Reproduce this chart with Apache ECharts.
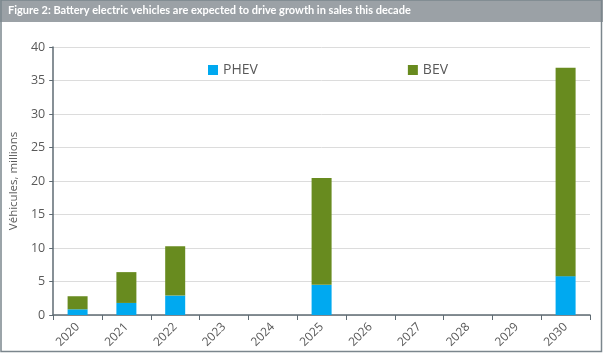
<!DOCTYPE html>
<html>
<head>
<meta charset="utf-8">
<script src="https://cdn.jsdelivr.net/npm/echarts@6/dist/echarts.min.js"></script>
<style>
  html, body { margin: 0; padding: 0; background: #fff; }
  #chart { width: 603px; height: 354px; }
</style>
</head>
<body>
<div id="chart"></div>
<script>
// 数据
var years = ["2020", "2021", "2022", "2023", "2024", "2025", "2026", "2027", "2028", "2029", "2030"];
var phev = [0.85, 1.8, 2.9, null, null, 4.5, null, null, null, null, 5.8];
var bev = [1.95, 4.6, 7.35, null, null, 15.95, null, null, null, null, 31.1];
var yTicks = { min: 0, max: 40, interval: 5 };

(function () {
    var myChart = echarts.init(document.getElementById("chart"));
    var axisColor = "#5f6b73";
    var textColor = "#595959";
    var font = "Open Sans";

    var option = {
        animation: false,
        backgroundColor: "#fff",
        title: {
            text: "Figure 2: Battery electric vehicles are expected to drive growth in sales this decade",
            left: 8,
            top: 5,
            padding: 0,
            textStyle: {
                color: "#fff",
                fontFamily: "Lato",
                fontWeight: "bold",
                fontSize: 11
            }
        },
        // 标题背景条和外框
        graphic: [
            {
                type: "rect",
                z: -1,
                shape: { x: 0, y: 0, width: 603, height: 22 },
                style: { fill: "#9ba1a6" }
            },
            {
                type: "rect",
                z: -1,
                shape: { x: 1, y: 0, width: 600.5, height: 351.5 },
                style: { fill: "none", stroke: "#7b868d", lineWidth: 1.5 }
            }
        ],
        legend: {
            left: 203,
            top: 58,
            itemGap: 150,
            itemWidth: 10,
            itemHeight: 10,
            icon: "rect",
            textStyle: { color: textColor, fontFamily: font, fontSize: 14 },
            data: ["PHEV", "BEV"]
        },
        grid: {
            left: 44,
            right: 13,
            top: 47,
            bottom: 39
        },
        xAxis: {
            type: "category",
            data: years,
            axisLine: { lineStyle: { color: axisColor, width: 1.5 } },
            axisTick: { show: true, length: 5, lineStyle: { color: axisColor } },
            axisLabel: {
                rotate: 45,
                color: textColor,
                fontFamily: font,
                fontSize: 12,
                margin: 10
            }
        },
        yAxis: {
            type: "value",
            min: yTicks.min,
            max: yTicks.max,
            interval: yTicks.interval,
            name: "Véhicules, millions",
            nameLocation: "middle",
            nameGap: 29,
            nameTextStyle: { color: textColor, fontFamily: font, fontSize: 11.5 },
            axisLine: { show: true, lineStyle: { color: axisColor, width: 1.5 } },
            axisTick: { show: true, length: 4, lineStyle: { color: axisColor } },
            axisLabel: { color: textColor, fontFamily: font, fontSize: 12.5, margin: 8 },
            splitLine: { lineStyle: { color: "#dcdcdc" } }
        },
        series: [
            {
                name: "PHEV",
                type: "bar",
                stack: "total",
                barWidth: 20,
                itemStyle: { color: "#00a9f0" },
                data: phev
            },
            {
                name: "BEV",
                type: "bar",
                stack: "total",
                barWidth: 20,
                itemStyle: { color: "#688b1f" },
                data: bev
            }
        ]
    };
    myChart.setOption(option);
    window.addEventListener("resize", function () {
        myChart.resize();
    });
})();
</script>
</body>
</html>
